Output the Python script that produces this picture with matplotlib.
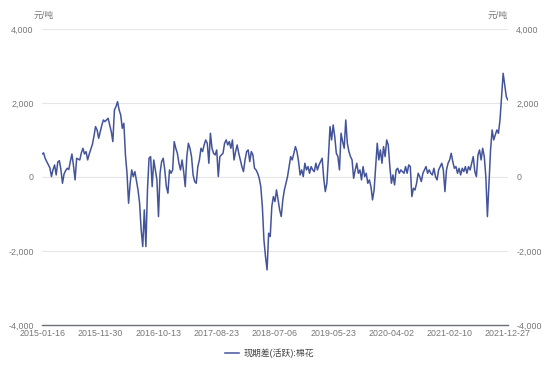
import numpy as np
import matplotlib.pyplot as plt

plt.rcParams['font.family'] = ['Liberation Sans', 'Noto Sans CJK SC', 'DejaVu Sans']

# 现期差(活跃):棉花, 元/吨 (roughly evenly spaced samples)
basis = [
    620, 650, 500, 415, 330, 245, 10, 200, 325, 55, 400, 440, 200, -170, 80,
    170, 235, 200, 420, 620, 300, -80, 505, 480, 460, 650, 775, 620, 685, 460,
    620, 750, 880, 1100, 1360, 1270, 1045, 1225, 1400, 1540, 1495, 1540, 1585,
    1400, 1225, 955, 1810, 1900, 2035, 1810, 1675, 1315, 1450, 595, 100, -710,
    -170, 190, 10,
    145, -100, -350, -710, -1430, -1880, -890, -1880, -350, 505, 550, -260, 460,
    190, -80, -1070, 100, 415, 505, 190, -260, -440, 190, 100, 190, 955, 775,
    640, 370, 190, 460, 145, -260, 550, 910, 775, 550, 55, -125, -170, 280, 460,
    775, 685, 865, 1000, 910, 370, 1180, 775, 640, 595, 730, 10, 550, 595, 640,
    910, 1000, 865, 955, 775, 1000, 460, 685, 865, 640, 460, 280, 145, 460, 685,
    730, 415, 685, 595, 235, 190, 100, -35, -260, -800, -1700, -2150, -2510,
    -1520, -1610, -800, -530, -665, -350, -620, -890, -1070, -620, -350, -170,
    10, 280, 550, 460, 640, 820, 685, 415, 55, 190, 10, 370, 190, 280, 100, 280,
    190, 145,
    370, 190, 325, 415, 505, -35, -395, -170, 550, 1360, 1000, 1405, 1090, 640,
    550, 190, 1180, 955, 775, 1540, 910, 685, 550, 460, -35, 190, 370, 100, 190,
    -80, 280, 10, 100, -170, -80, -260, -620, -350, 280, 910, 460, 730, 370, 820,
    550, 1000, 865, 280, -170, 55, -215, 190, 235, 100, 190, 145, 100,
    280, 100, 325, 280, -530, -305, -350, -170, 100, 10, -125, 100, 190, 280,
    100, 190, 100, 55, 235, 10, -80, 190, 280, 370, 190, -395, 190, 370, 460,
    640, 415, 235, 280, 100, 235, 55, 235, 145, 280, 100, 280, 190, 370, 550,
    145, 10, 595, 730, 460, 775, 550, 10, -1070, -170, 730, 1270, 1000, 1135,
    1270, 1180, 1540, 2170, 2800, 2490, 2170, 2080,
]
date_labels = ['2015-01-16', '2015-11-30', '2016-10-13', '2017-08-23', '2018-07-06',
               '2019-05-23', '2020-04-02', '2021-02-10', '2021-12-27']
y_ticks = [-4000, -2000, 0, 2000, 4000]

fig = plt.figure(figsize=(5.5, 3.66), dpi=100)
ax = fig.add_axes([0.0764, 0.112, 0.847, 0.809])

n = len(basis)
ax.plot(np.arange(n), basis, color='#44549a', lw=1.1, label='现期差(活跃):棉花')

ax.set_xlim(0, n - 1)
ax.set_ylim(-4000, 4000)
ax.set_xticks(np.linspace(0, n - 1, len(date_labels)))
ax.set_xticklabels(date_labels)
ax.set_yticks(y_ticks)
ax.set_yticklabels([f'{v:,}' for v in y_ticks])

ax.grid(axis='y', color='#e6e6e6', lw=0.8)
ax.set_axisbelow(True)
for s in ['top', 'left', 'right']:
    ax.spines[s].set_visible(False)
ax.spines['bottom'].set_color('#6e7079')
ax.spines['bottom'].set_linewidth(1.0)

ax.tick_params(axis='y', length=0, labelsize=6.4, labelcolor='#777777', pad=6,
               labelright=True)
ax.tick_params(axis='x', length=0, labelsize=6.4, labelcolor='#777777', pad=3)

ax.text(0.003, 1.03, '元/吨', transform=ax.transAxes, fontsize=6.4, color='#777777',
        ha='center', va='bottom')
ax.text(1.0, 1.03, '元/吨', transform=ax.transAxes, fontsize=6.4, color='#777777',
        ha='right', va='bottom')

fig.legend(loc='lower center', bbox_to_anchor=(0.49, 0.0), frameon=False,
           fontsize=6.4, handlelength=1.6, handletextpad=0.5,
           labelcolor='#444444')

fig.savefig('out.png', dpi=100)
